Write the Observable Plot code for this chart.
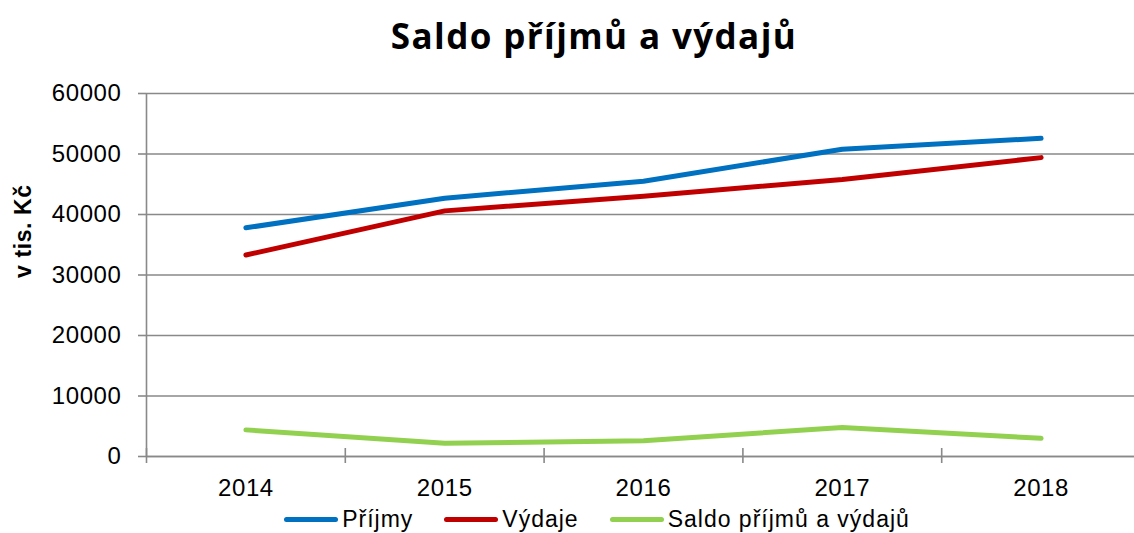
<!DOCTYPE html>
<html>
<head>
<meta charset="utf-8">
<script src="https://cdn.jsdelivr.net/npm/d3@7"></script>
<script src="https://cdn.jsdelivr.net/npm/@observablehq/plot@0.6"></script>
<style>
  html, body { margin: 0; padding: 0; background: #fff; }
  body { width: 1134px; height: 533px; position: relative; overflow: hidden; font-family: "Liberation Sans", Arial, sans-serif; }
  #title { position: absolute; top: 16px; left: 54px; width: 1080px; text-align: center; font-family: "Open Sans", sans-serif; font-weight: 700; font-size: 35px; line-height: 40px; color: #000; letter-spacing: 1.4px; }
  #chart { position: absolute; top: 75px; left: 0; width: 1140px; }
  #legend { position: absolute; top: 506px; left: 60px; width: 1074px; display: flex; justify-content: center; gap: 31px; font-size: 23px; letter-spacing: 1px; line-height: 26px; color: #000; }
  .item { display: flex; align-items: center; }
  .sw { width: 54px; height: 5px; border-radius: 3px; margin-right: 4px; }
  #chart svg text { letter-spacing: 0.6px; }
</style>
</head>
<body>
<div id="title"></div>
<div id="chart"></div>
<div id="legend"></div>
<script>
const title = "Saldo příjmů a výdajů";
const yLabel = "v tis. Kč";
const years = [2014, 2015, 2016, 2017, 2018];
const prijmy = [37800, 42700, 45500, 50800, 52600];
const vydaje = [33300, 40600, 43000, 45800, 49400];
const saldo = [4400, 2200, 2600, 4800, 3000];
const seriesNames = ["Příjmy", "Výdaje", "Saldo příjmů a výdajů"];
const seriesColors = ["#0070C0", "#C00000", "#92D050"];
const yTicks = [0, 10000, 20000, 30000, 40000, 50000, 60000];

const seriesValues = [prijmy, vydaje, saldo];
const data = [];
seriesNames.forEach((name, s) => {
  years.forEach((yr, i) => data.push({series: name, year: yr, value: seriesValues[s][i]}));
});
const boundaries = years.map(y => y - 0.5).concat([years[years.length - 1] + 0.5]);
const gray = "#898989";

document.getElementById("title").textContent = title;

const chart = Plot.plot({
  width: 1140,
  height: 425,
  marginLeft: 146,
  marginRight: 0,
  marginTop: 18,
  marginBottom: 44,
  style: {fontFamily: "'Liberation Sans', Arial, sans-serif", fontSize: "24px", color: "#000", background: "transparent", overflow: "visible", maxWidth: "none"},
  x: {type: "linear", domain: [boundaries[0], boundaries[boundaries.length - 1]]},
  y: {domain: [yTicks[0], yTicks[yTicks.length - 1]]},
  color: {domain: seriesNames, range: seriesColors},
  marks: [
    Plot.gridY(yTicks, {stroke: gray, strokeOpacity: 1, strokeWidth: 1.6}),
    Plot.ruleY([0], {stroke: gray, strokeWidth: 1.6}),
    Plot.ruleX([boundaries[0]], {stroke: gray, strokeWidth: 1.6}),
    Plot.ruleX(boundaries, {x: d => d, y1: 0, y2: 0, insetTop: -8, insetBottom: -7, stroke: gray, strokeWidth: 1.6}),
    Plot.axisY(yTicks, {tickSize: 8, tickPadding: 17, stroke: gray, strokeWidth: 1.6, fontSize: 24, label: null, tickFormat: d => String(d)}),
    Plot.axisX(years, {tickSize: 0, tickPadding: 22, fontSize: 24, label: null, tickFormat: d => String(d)}),
    Plot.line(data, {x: "year", y: "value", z: "series", stroke: "series", strokeWidth: 5, strokeLinecap: "round", strokeLinejoin: "round"}),
    Plot.text([yLabel], {frameAnchor: "left", dx: -123, dy: 3, rotate: -90, fontSize: 23, fontWeight: "bold"})
  ]
});
document.getElementById("chart").appendChild(chart);

const legend = document.getElementById("legend");
seriesNames.forEach((name, i) => {
  const item = document.createElement("div");
  item.className = "item";
  const sw = document.createElement("span");
  sw.className = "sw";
  sw.style.background = seriesColors[i];
  const t = document.createElement("span");
  t.textContent = name;
  item.appendChild(sw);
  item.appendChild(t);
  legend.appendChild(item);
});
</script>
</body>
</html>
